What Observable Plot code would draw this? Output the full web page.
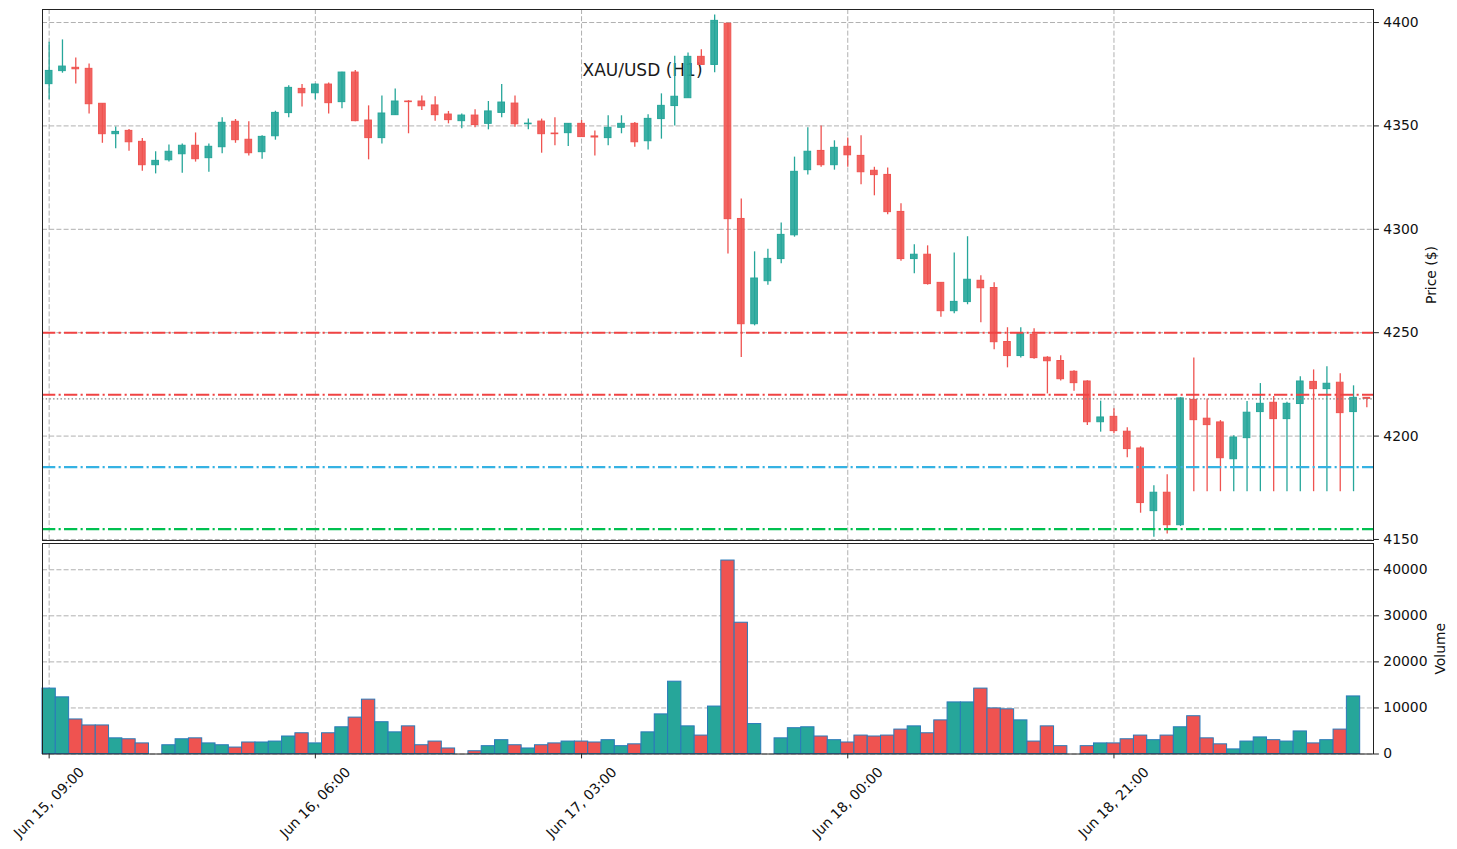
<!DOCTYPE html>
<html><head><meta charset="utf-8">
<script src="https://cdn.jsdelivr.net/npm/d3@7"></script>
<script src="https://cdn.jsdelivr.net/npm/@observablehq/plot@0.6"></script>
<style>
html,body{margin:0;padding:0;background:#fff;}
#wrap{position:relative;width:1457px;height:849px;overflow:hidden;}
#price{position:absolute;left:0;top:0;}
#vol{position:absolute;left:0;top:540px;}
</style></head><body><div id="wrap"><div id="price"></div><div id="vol"></div></div>
<script>
const title = "XAU/USD (H1)";
const opens = [4370.2,4376.5,4378.1,4377.6,4360.7,4346.0,4347.6,4342.3,4331.0,4333.4,
4336.3,4340.4,4334.4,4339.7,4352.0,4343.3,4337.3,4345.0,4356.2,4367.9,
4365.8,4370.0,4361.5,4375.8,4352.6,4344.1,4355.2,4361.8,4361.8,4359.9,
4355.5,4352.3,4355.0,4351.0,4356.3,4360.8,4350.8,4352.1,4346.3,4346.5,
4351.0,4344.9,4344.1,4349.1,4351.0,4342.6,4353.3,4359.6,4363.4,4383.4,
4379.5,4399.4,4305.0,4254.1,4274.9,4285.6,4297.1,4328.6,4337.9,4331.0,
4339.9,4335.5,4328.3,4326.3,4308.4,4285.6,4287.7,4274.1,4260.4,4264.8,
4275.1,4271.6,4245.5,4238.7,4249.0,4237.9,4236.3,4231.1,4226.4,4206.7,
4209.3,4202.1,4194.0,4163.7,4172.6,4156.9,4217.5,4208.4,4206.6,4188.8,
4199.0,4211.6,4216.1,4208.2,4215.5,4226.2,4222.7,4225.8,4211.6,4218.5];
const highs = [4390.5,4391.6,4382.9,4380.0,4360.7,4349.5,4348.3,4343.9,4337.5,4340.8,
4341.3,4346.6,4341.3,4353.9,4353.1,4352.0,4345.2,4357.1,4369.4,4370.0,
4370.3,4370.7,4376.0,4376.8,4359.7,4364.5,4367.9,4362.2,4364.5,4364.1,
4357.0,4355.8,4357.8,4361.8,4370.0,4364.5,4353.4,4353.3,4353.9,4351.2,
4352.6,4347.5,4354.9,4354.9,4351.6,4355.4,4365.5,4383.7,4385.3,4386.8,
4403.7,4399.6,4314.6,4289.1,4290.4,4303.1,4334.9,4349.1,4350.0,4342.8,
4344.2,4345.2,4330.0,4329.6,4312.3,4292.5,4292.0,4274.3,4288.6,4296.4,
4277.5,4274.1,4252.4,4252.4,4251.9,4238.4,4238.8,4231.6,4226.8,4216.9,
4213.2,4204.0,4194.8,4176.0,4181.3,4218.5,4237.8,4217.9,4207.5,4200.1,
4216.7,4225.4,4219.1,4216.3,4228.7,4232.0,4233.5,4230.1,4224.3,4218.6];
const lows = [4362.6,4375.5,4370.3,4355.8,4341.6,4338.9,4337.8,4328.1,4326.8,4332.5,
4327.1,4332.5,4327.6,4336.5,4341.6,4335.4,4333.9,4343.1,4353.9,4359.1,
4362.6,4355.8,4358.3,4352.0,4333.6,4341.3,4355.0,4346.2,4357.4,4352.3,
4351.0,4348.6,4349.1,4348.1,4353.9,4349.4,4348.1,4336.8,4340.4,4340.0,
4344.6,4335.5,4340.4,4346.2,4339.7,4338.4,4343.6,4350.0,4363.4,4379.5,
4375.7,4288.0,4238.0,4253.3,4273.0,4283.3,4296.2,4326.3,4330.0,4328.6,
4330.0,4321.5,4316.2,4307.0,4284.6,4278.5,4273.0,4257.5,4259.1,4263.5,
4254.8,4241.7,4233.0,4237.7,4237.2,4220.4,4226.6,4221.7,4205.1,4201.9,
4201.1,4189.5,4162.7,4151.1,4152.7,4156.3,4173.1,4173.1,4173.1,4173.1,
4173.1,4173.1,4173.1,4173.1,4173.1,4173.1,4173.1,4173.1,4173.1,4213.7];
const closes = [4376.6,4378.7,4377.4,4360.5,4346.0,4347.1,4342.1,4331.0,4333.1,4337.5,
4340.4,4333.9,4339.9,4351.5,4343.1,4336.8,4344.7,4356.3,4368.4,4365.8,
4370.0,4361.0,4375.8,4352.3,4344.1,4356.0,4361.8,4361.5,4359.5,4355.2,
4352.8,4355.0,4350.4,4357.0,4361.3,4350.8,4351.1,4346.0,4346.0,4351.0,
4344.6,4344.4,4349.1,4351.0,4342.1,4353.4,4359.7,4364.1,4383.4,4379.5,
4400.8,4304.9,4254.1,4276.2,4285.7,4297.3,4327.8,4337.5,4331.0,4339.4,
4335.8,4327.6,4326.2,4308.3,4285.6,4287.7,4273.5,4260.4,4264.9,4275.6,
4271.5,4245.4,4238.7,4249.5,4237.7,4236.2,4227.5,4225.6,4206.7,4209.0,
4202.4,4193.7,4167.6,4172.6,4156.9,4218.2,4207.7,4205.3,4189.3,4199.3,
4211.3,4215.6,4208.2,4215.6,4226.4,4222.7,4225.3,4211.1,4218.5,4218.0];
const volumes = [14200,12300,7500,6200,6200,3400,3200,2300,0,1900,
3200,3400,2300,1900,1400,2500,2500,2700,3800,4500,
2300,4500,5800,7900,11800,6900,4700,6000,1900,2700,
1200,0,600,1700,3000,1900,1200,1900,2300,2700,
2700,2500,3000,1700,2100,4700,8600,15700,6000,4000,
10300,42000,28500,6500,0,3400,5600,5800,3800,3000,
2500,4000,3800,4000,5300,6000,4500,7300,11200,11200,
14200,9900,9700,7300,2700,6000,1700,0,1700,2300,
2300,3200,4000,3000,4000,5800,8200,3400,2100,1000,
2700,3600,3000,2700,4900,2300,3000,5300,12500,0];
const xTickIdx = [0, 20, 40, 60, 80];
const xTickLabels = ["Jun 15, 09:00", "Jun 16, 06:00", "Jun 17, 03:00", "Jun 18, 00:00", "Jun 18, 21:00"];
const priceTicks = [4150, 4200, 4250, 4300, 4350, 4400];
const volTicks = [0, 10000, 20000, 30000, 40000];
const levels = [4250, 4220, 4185, 4155];
const levelColors = ["#f04343", "#f04343", "#35b2e3", "#00c050"];

const UP = "#26a69a", DOWN = "#ef5350";
const data = opens.map((o, i) => ({i, o, h: highs[i], l: lows[i], c: closes[i], v: volumes[i], col: closes[i] >= o ? UP : DOWN}));
const lastClose = closes[closes.length - 1];
const style = {fontFamily: "'DejaVu Sans', sans-serif", fontSize: "13.9px", background: "transparent", overflow: "visible", color: "#111"};
const gridStyle = {stroke: "#b0b0b0", strokeOpacity: 1, strokeWidth: 1, strokeDasharray: "5,2.2"};

const price = Plot.plot({
  width: 1457, height: 545, marginLeft: 42, marginRight: 84, marginTop: 9, marginBottom: 5,
  style,
  x: {domain: [-0.5, 99.5], axis: null},
  y: {domain: [4149.5, 4406.3], axis: null},
  color: {type: "identity"},
  marks: [
    Plot.gridY(priceTicks, gridStyle),
    Plot.gridX(xTickIdx, gridStyle),
    Plot.text([title], {frameAnchor: "top-left", dx: 600, dy: 61, fontSize: 17, fill: "#1a1a1a", textAnchor: "middle", lineAnchor: "middle"}),
    Plot.ruleX(data, {x: "i", y1: "l", y2: "h", stroke: "col", strokeWidth: 1.3}),
    Plot.rect(data, {x1: d => d.i - 0.25, x2: d => d.i + 0.25, y1: "o", y2: "c", fill: "col", fillOpacity: 0.9, stroke: "col", strokeWidth: 1}),
    Plot.ruleY(levels, {y: d => d, stroke: (d, i) => levelColors[i], strokeWidth: 2.1, strokeDasharray: "13.3,3.3,2.1,3.3"}),
    Plot.ruleY([lastClose], {y: d => d, stroke: "#808080", strokeWidth: 1.3, strokeDasharray: "1.4,2.3"}),
    Plot.axisY(priceTicks, {anchor: "right", label: null, tickSize: 4.9, tickPadding: 4.9, fontSize: 13.9, tickFormat: d => String(d), stroke: "#222"}),
    Plot.frame({stroke: "#222", strokeWidth: 1}),
    Plot.text(["Price ($)"], {frameAnchor: "right", dx: 58, rotate: -90, fontSize: 13.9, textAnchor: "middle", lineAnchor: "middle", fill: "#111"})
  ]
});
document.getElementById("price").appendChild(price);

const vol = Plot.plot({
  width: 1457, height: 309, marginLeft: 42, marginRight: 84, marginTop: 3, marginBottom: 95.5,
  style,
  x: {domain: [-0.5, 99.5], axis: null},
  y: {domain: [0, 45700], axis: null},
  color: {type: "identity"},
  marks: [
    Plot.gridY(volTicks, gridStyle),
    Plot.gridX(xTickIdx, gridStyle),
    Plot.rect(data.filter(d => d.v > 0), {x1: d => d.i - 0.5, x2: d => d.i + 0.5, y1: 0, y2: "v", fill: "col", stroke: "#2a7ab9", strokeWidth: 1}),
    Plot.axisY(volTicks, {anchor: "right", label: null, tickSize: 4.9, tickPadding: 4.9, fontSize: 13.9, tickFormat: d => String(d), stroke: "#222"}),
    Plot.axisX(xTickIdx, {anchor: "bottom", label: null, tickSize: 4.9, tickFormat: () => "", stroke: "#222"}),
    Plot.text(xTickIdx, {x: d => d, text: (d, i) => xTickLabels[i], frameAnchor: "bottom", dy: 48.5, rotate: -45, fontSize: 13.9, textAnchor: "middle", lineAnchor: "middle", fill: "#111"}),
    Plot.frame({stroke: "#222", strokeWidth: 1}),
    Plot.text(["Volume"], {frameAnchor: "right", dx: 67, rotate: -90, fontSize: 13.9, textAnchor: "middle", lineAnchor: "middle", fill: "#111"})
  ]
});
document.getElementById("vol").appendChild(vol);
</script></body></html>
